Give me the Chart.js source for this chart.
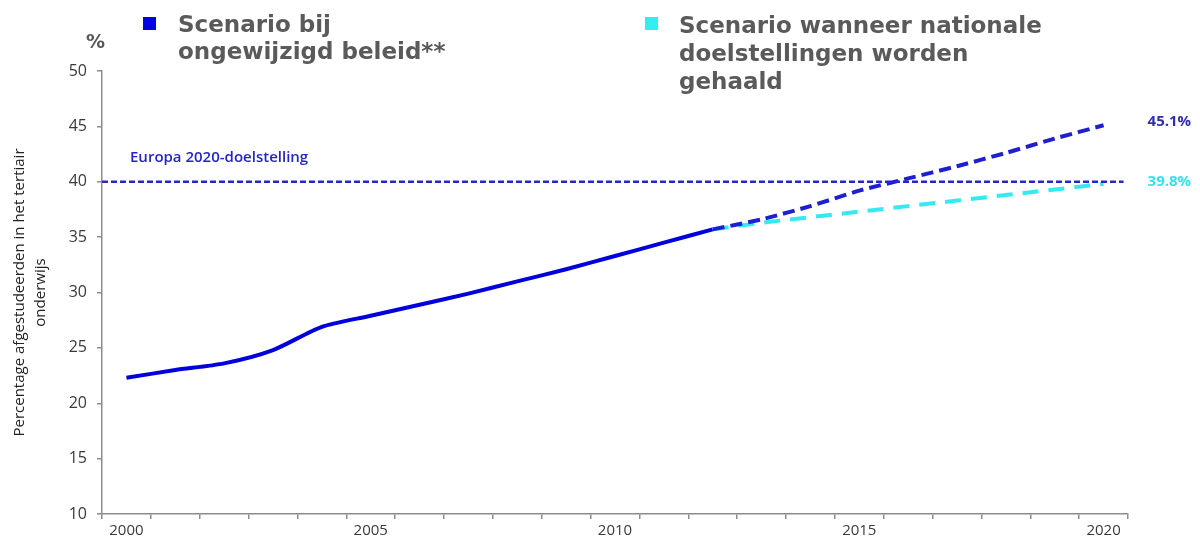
<!DOCTYPE html>
<html lang="nl">
<head>
<meta charset="utf-8">
<script src="https://cdn.jsdelivr.net/npm/chart.js@4/dist/chart.umd.min.js"></script>
<style>
    body { margin: 0; background: #fff; }
    #wrap { position: relative; width: 1200px; height: 546px; }
    canvas { position: absolute; left: 0; top: 0; }
    .leg { position: absolute; font-family: "DejaVu Sans", Verdana, sans-serif; font-weight: bold; font-size: 23px; color: #5a5a5a; white-space: nowrap; }
    .box { position: absolute; width: 13px; height: 13px; }
    #pct { position: absolute; left: 86px; top: 30px; font-family: "DejaVu Sans", sans-serif; font-weight: bold; font-size: 19px; color: #555; }
</style>
</head>
<body>
<div id="wrap">
    <canvas id="grafiek" width="1200" height="546"></canvas>
    <div class="box" style="left:143px; top:17px; background:#0000e6;"></div>
    <div class="leg" style="left:178px; top:11px; line-height:27px;">Scenario bij<br>ongewijzigd beleid**</div>
    <div class="box" style="left:645px; top:17px; background:#33eeee;"></div>
    <div class="leg" style="left:679px; top:11px; line-height:28px;">Scenario wanneer nationale<br>doelstellingen worden<br>gehaald</div>
    <div id="pct">%</div>
</div>
<script>
// jaren op de x-as
const jaren = ["2000", "2001", "2002", "2003", "2004", "2005", "2006", "2007", "2008", "2009", "2010",
               "2011", "2012", "2013", "2014", "2015", "2016", "2017", "2018", "2019", "2020"];
const tickJaren = ["2000", "2005", "2010", "2015", "2020"];

// gerealiseerd (doorgetrokken lijn)
const historisch = [22.3, 23.0, 23.6, 24.8, 26.9, 27.9, 28.9, 29.9, 31.0, 32.1, 33.3, 34.5, 35.7,
                    null, null, null, null, null, null, null, null];
// scenario bij ongewijzigd beleid
const ongewijzigd = [null, null, null, null, null, null, null, null, null, null, null, null, 35.7,
                     36.6, 37.8, 39.2, 40.3, 41.4, 42.6, 43.9, 45.1];
// scenario wanneer nationale doelstellingen worden gehaald
const nationaal = [null, null, null, null, null, null, null, null, null, null, null, null, 35.7,
                   36.3, 36.8, 37.3, 37.8, 38.3, 38.8, 39.3, 39.8];

const doelEuropa = 40;
const eindLabels = ["45.1%", "39.8%"];

const asKleur = "#8c8c8c";
const tekstKleur = "#3a3a3a";

// doelstellingslijn + labels
const extraTekst = {
    id: "extraTekst",
    afterDatasetsDraw(chart) {
        const ctx = chart.ctx;
        const x = chart.scales.x;
        const y = chart.scales.y;
        const yDoel = y.getPixelForValue(doelEuropa);

        ctx.save();
        ctx.strokeStyle = "#2626d0";
        ctx.lineWidth = 2.5;
        ctx.setLineDash([6, 3]);
        ctx.beginPath();
        ctx.moveTo(chart.chartArea.left, yDoel);
        ctx.lineTo(x.getPixelForValue(20) + 20, yDoel);
        ctx.stroke();
        ctx.setLineDash([]);

        ctx.font = "600 15px 'Open Sans'";
        ctx.fillStyle = "#2424c8";
        ctx.textBaseline = "middle";
        ctx.fillText("Europa 2020-doelstelling", chart.chartArea.left + 28, yDoel - 24);

        // waarden aan het einde van de projecties
        const kleuren = ["#3030a8", "#33e3ea"];
        [0, 1].forEach(i => {
            const punt = chart.getDatasetMeta(i).data[20];
            ctx.fillStyle = kleuren[i];
            ctx.font = "bold 15px 'Open Sans'";
            ctx.fillText(eindLabels[i], punt.x + 44, punt.y - 4 + i * 2);
        });
        ctx.restore();
    }
};

new Chart(document.getElementById("grafiek"), {
    type: "line",
    data: {
        labels: jaren,
        datasets: [
            {
                label: "Scenario bij ongewijzigd beleid",
                data: ongewijzigd,
                borderColor: "#1f1fd2",
                borderWidth: 4,
                borderDash: [12, 6],
                pointRadius: 0,
                tension: 0.15
            },
            {
                label: "Scenario wanneer nationale doelstellingen worden gehaald",
                data: nationaal,
                borderColor: "#33eaf0",
                borderWidth: 4,
                borderDash: [16, 10],
                pointRadius: 0,
                tension: 0
            },
            {
                label: "Gerealiseerd",
                data: historisch,
                borderColor: "#0000dc",
                borderWidth: 4,
                pointRadius: 0,
                tension: 0.25
            }
        ]
    },
    options: {
        responsive: false,
        animation: false,
        devicePixelRatio: 1,
        layout: { padding: { top: 71, right: 72, left: 0, bottom: 0 } },
        plugins: {
            legend: { display: false },
            tooltip: { enabled: false }
        },
        scales: {
            x: {
                offset: true,
                afterFit: s => { s.height = 32; },
                grid: { offset: true, drawOnChartArea: false, drawTicks: true, tickLength: 5, color: asKleur, lineWidth: 1.5 },
                border: { color: asKleur, width: 1.5 },
                ticks: {
                    autoSkip: false,
                    maxRotation: 0,
                    padding: 3,
                    color: tekstKleur,
                    font: { family: "Open Sans", size: 15 },
                    callback: (v, i) => tickJaren.includes(jaren[i]) ? jaren[i] : ""
                }
            },
            y: {
                min: 10,
                max: 50,
                afterFit: s => { s.width = 102; },
                grid: { drawOnChartArea: false, drawTicks: true, tickLength: 5, color: asKleur, lineWidth: 1.5 },
                border: { color: asKleur, width: 1.5 },
                ticks: {
                    stepSize: 5,
                    padding: 10,
                    color: tekstKleur,
                    font: { family: "Open Sans", size: 16 }
                },
                title: {
                    display: true,
                    text: ["Percentage afgestudeerden in het tertiair", "onderwijs"],
                    color: "#222",
                    font: { family: "Open Sans", size: 15, lineHeight: 1.35 },
                    padding: { top: 10, bottom: 0 }
                }
            }
        }
    },
    plugins: [extraTekst]
});
</script>
</body>
</html>
